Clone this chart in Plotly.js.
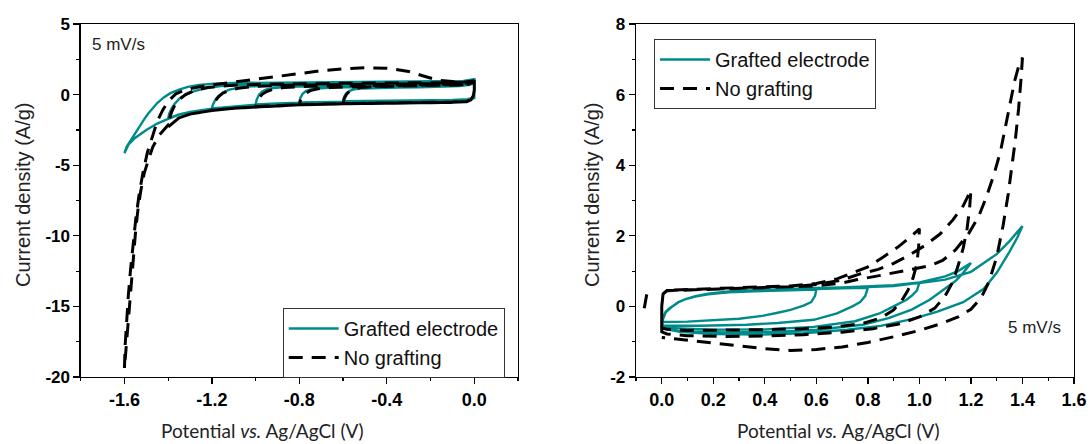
<!DOCTYPE html>
<html>
<head>
<meta charset="utf-8">
<script src="https://cdn.plot.ly/plotly-3.0.1.min.js"></script>
<style>html,body{margin:0;padding:0;background:#fff;}#chart{width:1091px;height:444px;}</style>
</head>
<body>
<div id="chart"></div>
<script>
// ---------- LEFT PANEL (negative window) ----------
// Grafted electrode: successive cycles 0 -> -0.6, -0.8, -1.0, -1.2, -1.4, -1.6 V
const leftGraftedV = [
  0, -0.03, -0.1, -0.2, -0.3, -0.4, -0.5, -0.6, -0.595, -0.585, -0.57, -0.55, -0.52, -0.45, -0.35, -0.25, -0.15, -0.07, -0.02, 0,
  0, -0.03, -0.1, -0.2, -0.4, -0.6, -0.7, -0.8, -0.795, -0.785, -0.77, -0.75, -0.72, -0.65, -0.5, -0.35, -0.2, -0.1, -0.03, 0,
  0, -0.03, -0.1, -0.2, -0.4, -0.6, -0.8, -0.9, -1.0, -0.995, -0.985, -0.97, -0.95, -0.92, -0.85, -0.7, -0.5, -0.3, -0.15, -0.05, 0,
  0, -0.03, -0.1, -0.2, -0.4, -0.6, -0.8, -1.0, -1.1, -1.2, -1.195, -1.185, -1.17, -1.15, -1.12, -1.08, -1.02, -0.9, -0.7, -0.5, -0.3, -0.15, -0.05, 0,
  0, -0.03, -0.1, -0.2, -0.4, -0.6, -0.8, -1.0, -1.1, -1.2, -1.3, -1.35, -1.4, -1.395, -1.385, -1.37, -1.35, -1.32, -1.28, -1.23, -1.16, -1.05, -0.9, -0.7, -0.5, -0.3, -0.15, -0.05, 0,
  0, -0.03, -0.1, -0.2, -0.4, -0.6, -0.8, -1.0, -1.1, -1.2, -1.3, -1.35, -1.4, -1.45, -1.5, -1.55, -1.58, -1.6, -1.59, -1.57, -1.55, -1.53, -1.51, -1.49, -1.47, -1.45, -1.42, -1.39, -1.35, -1.31, -1.26, -1.19, -1.1, -0.9, -0.7, -0.5, -0.3, -0.15, -0.05, 0
];
const leftGraftedI = [
  -0.2, -0.33, -0.38, -0.4, -0.41, -0.42, -0.44, -0.46, -0.15, 0.1, 0.27, 0.37, 0.43, 0.48, 0.5, 0.52, 0.55, 0.6, 0.7, 0.85,
  -0.22, -0.35, -0.4, -0.42, -0.44, -0.48, -0.51, -0.55, -0.22, 0.05, 0.25, 0.36, 0.43, 0.5, 0.55, 0.58, 0.6, 0.64, 0.72, 0.92,
  -0.22, -0.36, -0.41, -0.43, -0.45, -0.5, -0.57, -0.62, -0.7, -0.35, -0.02, 0.22, 0.36, 0.46, 0.55, 0.6, 0.63, 0.66, 0.69, 0.75, 0.98,
  -0.24, -0.38, -0.42, -0.44, -0.46, -0.51, -0.59, -0.72, -0.83, -0.98, -0.7, -0.4, -0.1, 0.15, 0.35, 0.48, 0.58, 0.66, 0.7, 0.73, 0.76, 0.8, 0.85, 1.05,
  -0.25, -0.38, -0.42, -0.44, -0.46, -0.52, -0.6, -0.73, -0.85, -1.0, -1.22, -1.4, -1.7, -1.35, -1.0, -0.65, -0.3, 0.0, 0.25, 0.45, 0.6, 0.7, 0.75, 0.78, 0.8, 0.82, 0.85, 0.9, 1.08,
  -0.25, -0.39, -0.43, -0.45, -0.47, -0.53, -0.62, -0.75, -0.87, -1.02, -1.24, -1.42, -1.72, -2.05, -2.5, -3.05, -3.5, -4.15, -3.7, -3.2, -2.7, -2.2, -1.75, -1.32, -0.95, -0.6, -0.2, 0.1, 0.35, 0.55, 0.68, 0.78, 0.82, 0.85, 0.87, 0.88, 0.9, 0.92, 0.97, 1.1
];
// No grafting
const leftBareV = [
  0, -0.005, -0.015, -0.035, -0.1, -0.2, -0.3, -0.4, -0.5, -0.6, -0.595, -0.585, -0.57, -0.55, -0.52, -0.45, -0.35, -0.25, -0.15, -0.07, -0.02, 0,
  0, -0.005, -0.015, -0.035, -0.1, -0.2, -0.4, -0.6, -0.7, -0.8, -0.795, -0.785, -0.77, -0.75, -0.72, -0.66, -0.55, -0.4, -0.25, -0.1, -0.03, 0,
  0, -0.005, -0.015, -0.035, -0.1, -0.2, -0.4, -0.6, -0.8, -0.9, -1.0, -0.995, -0.985, -0.97, -0.95, -0.92, -0.87, -0.75, -0.55, -0.35, -0.18, -0.06, 0,
  0, -0.005, -0.015, -0.035, -0.1, -0.2, -0.4, -0.6, -0.8, -1.0, -1.1, -1.2, -1.195, -1.185, -1.17, -1.15, -1.12, -1.08, -1.0, -0.85, -0.6, -0.4, -0.2, -0.08, 0,
  0, -0.005, -0.015, -0.035, -0.1, -0.2, -0.4, -0.6, -0.8, -1.0, -1.1, -1.2, -1.3, -1.35, -1.4, -1.395, -1.385, -1.37, -1.35, -1.32, -1.28, -1.22, -1.12, -1.0, -0.8, -0.6, -0.4, -0.2, -0.08, 0,
  0, -0.005, -0.015, -0.035, -0.1, -0.2, -0.4, -0.6, -0.8, -1.0, -1.1, -1.2, -1.3, -1.35, -1.4, -1.44, -1.47, -1.49, -1.51, -1.525, -1.537, -1.548, -1.556, -1.563, -1.57, -1.578, -1.587, -1.595, -1.6,
  -1.597, -1.59, -1.582, -1.572, -1.561, -1.548, -1.533, -1.515, -1.495, -1.472, -1.45, -1.425, -1.398, -1.365, -1.32, -1.25, -1.15, -1.05, -0.95, -0.85, -0.72, -0.6, -0.5, -0.4, -0.3, -0.24, -0.17, -0.1, -0.04, 0
];
const leftBareI = [
  0.3, -0.1, -0.35, -0.48, -0.53, -0.55, -0.57, -0.58, -0.6, -0.63, -0.3, 0.0, 0.25, 0.4, 0.5, 0.57, 0.6, 0.62, 0.65, 0.68, 0.75, 0.9,
  0.3, -0.1, -0.35, -0.48, -0.53, -0.55, -0.58, -0.63, -0.66, -0.7, -0.42, -0.15, 0.1, 0.28, 0.4, 0.5, 0.56, 0.6, 0.63, 0.67, 0.74, 0.88,
  0.3, -0.1, -0.36, -0.49, -0.54, -0.56, -0.59, -0.64, -0.71, -0.77, -0.85, -0.55, -0.25, 0.02, 0.22, 0.38, 0.5, 0.6, 0.65, 0.68, 0.7, 0.76, 0.9,
  0.3, -0.1, -0.37, -0.5, -0.55, -0.57, -0.6, -0.65, -0.72, -0.86, -0.97, -1.12, -0.8, -0.45, -0.15, 0.1, 0.3, 0.45, 0.58, 0.66, 0.7, 0.72, 0.75, 0.8, 0.92,
  0.3, -0.1, -0.37, -0.5, -0.55, -0.57, -0.6, -0.65, -0.72, -0.86, -0.97, -1.12, -1.38, -1.65, -2.3, -1.8, -1.25, -0.75, -0.35, 0.0, 0.3, 0.5, 0.65, 0.72, 0.78, 0.8, 0.82, 0.84, 0.86, 0.95,
  0.3, -0.1, -0.37, -0.5, -0.55, -0.57, -0.6, -0.65, -0.72, -0.86, -0.97, -1.12, -1.38, -1.65, -2.15, -2.85, -3.7, -4.6, -5.6, -6.8, -8.0, -9.5, -11.0, -12.4, -14.0, -15.6, -17.3, -18.6, -19.4,
  -17.8, -16.0, -14.2, -12.4, -10.6, -8.8, -7.1, -5.5, -4.1, -2.9, -1.9, -1.1, -0.45, 0.05, 0.35, 0.58, 0.78, 0.98, 1.18, 1.4, 1.65, 1.83, 1.9, 1.87, 1.64, 1.35, 1.03, 0.92, 0.9, 0.98
];

// ---------- RIGHT PANEL (positive window) ----------
// Grafted electrode: successive cycles 0 -> 0.6, 0.8, 1.0, 1.2, 1.4 V
const rightGraftedV = [
  0, 0.005, 0.015, 0.03, 0.045, 0.065, 0.09, 0.13, 0.18, 0.26, 0.36, 0.46, 0.6, 0.595, 0.58, 0.55, 0.5, 0.45, 0.39, 0.3, 0.2, 0.1, 0,
  0, 0.005, 0.015, 0.03, 0.045, 0.065, 0.09, 0.13, 0.18, 0.26, 0.36, 0.46, 0.6, 0.7, 0.8, 0.79, 0.77, 0.74, 0.68, 0.59, 0.45, 0.33, 0.15, 0,
  0, 0.005, 0.015, 0.03, 0.045, 0.065, 0.09, 0.13, 0.18, 0.26, 0.36, 0.46, 0.6, 0.7, 0.8, 0.9, 1.0, 0.99, 0.97, 0.95, 0.9, 0.845, 0.75, 0.59, 0.4, 0.2, 0,
  0, 0.005, 0.015, 0.03, 0.045, 0.065, 0.09, 0.13, 0.18, 0.26, 0.36, 0.46, 0.6, 0.7, 0.8, 0.9, 1.0, 1.1, 1.15, 1.2, 1.17, 1.14, 1.09, 1.04, 0.97, 0.88, 0.78, 0.6, 0.46, 0.25, 0.07, 0,
  0, 0.005, 0.015, 0.03, 0.045, 0.065, 0.09, 0.13, 0.18, 0.26, 0.36, 0.46, 0.6, 0.7, 0.8, 0.9, 1.0, 1.1, 1.2, 1.3, 1.35, 1.4, 1.38, 1.35, 1.3, 1.25, 1.17, 1.07, 0.97, 0.85, 0.72, 0.55, 0.39, 0.2, 0.07, 0
];
const rightGraftedI = [
  -0.42, -0.3, -0.15, -0.05, 0.02, 0.12, 0.2, 0.28, 0.34, 0.4, 0.43, 0.45, 0.48, 0.3, 0.12, 0.02, -0.1, -0.18, -0.27, -0.35, -0.4, -0.43, -0.44,
  -0.44, -0.3, -0.15, -0.05, 0.02, 0.12, 0.2, 0.28, 0.34, 0.4, 0.43, 0.46, 0.49, 0.51, 0.53, 0.3, 0.12, 0.0, -0.2, -0.38, -0.47, -0.52, -0.55, -0.55,
  -0.55, -0.35, -0.17, -0.06, 0.02, 0.12, 0.2, 0.28, 0.35, 0.41, 0.44, 0.47, 0.5, 0.52, 0.54, 0.58, 0.67, 0.45, 0.3, 0.19, 0.0, -0.2, -0.42, -0.58, -0.65, -0.66, -0.6,
  -0.6, -0.36, -0.18, -0.06, 0.02, 0.12, 0.2, 0.28, 0.35, 0.41, 0.45, 0.48, 0.51, 0.53, 0.55, 0.6, 0.68, 0.85, 1.0, 1.23, 0.95, 0.72, 0.45, 0.19, -0.09, -0.33, -0.52, -0.66, -0.72, -0.74, -0.71, -0.6,
  -0.6, -0.36, -0.18, -0.06, 0.02, 0.12, 0.2, 0.29, 0.36, 0.42, 0.46, 0.49, 0.52, 0.54, 0.56, 0.6, 0.66, 0.76, 0.98, 1.48, 1.85, 2.28, 1.95, 1.55, 0.95, 0.5, 0.12, -0.15, -0.36, -0.55, -0.66, -0.76, -0.8, -0.78, -0.72, -0.62
];
// No grafting (null breaks the first short sweep from the loops)
const rightBareV = [
  -0.068, -0.058, null,
  0, 0, 0.005, 0.02, 0.1, 0.2, 0.3, 0.4, 0.5, 0.6, 0.68, 0.74, 0.8, 0.86, 0.92, 0.97, 1.0, 0.997, 0.99, 0.975, 0.955, 0.93, 0.9, 0.85, 0.78, 0.68, 0.55, 0.4, 0.25, 0.1, 0.02, 0,
  0, 0.005, 0.02, 0.1, 0.2, 0.3, 0.4, 0.5, 0.6, 0.7, 0.77, 0.84, 0.9, 0.96, 1.02, 1.08, 1.13, 1.17, 1.2, 1.195, 1.185, 1.17, 1.15, 1.13, 1.1, 1.06, 1.0, 0.92, 0.82, 0.7, 0.55, 0.4, 0.25, 0.1, 0.02, 0,
  0, 0.005, 0.02, 0.1, 0.2, 0.3, 0.4, 0.5, 0.6, 0.7, 0.76, 0.85, 0.97, 1.04, 1.09, 1.14, 1.19, 1.23, 1.26, 1.29, 1.315, 1.335, 1.355, 1.37, 1.385, 1.4,
  1.395, 1.385, 1.372, 1.36, 1.345, 1.325, 1.3, 1.27, 1.24, 1.2, 1.15, 1.08, 1.0, 0.9, 0.8, 0.7, 0.6, 0.5, 0.4, 0.3, 0.2, 0.1, 0.03, 0
];
const rightBareI = [
  -0.05, 0.35, null,
  -0.6, 0.0, 0.35, 0.46, 0.48, 0.5, 0.52, 0.55, 0.58, 0.65, 0.78, 0.95, 1.12, 1.4, 1.7, 2.0, 2.2, 1.7, 1.2, 0.8, 0.45, 0.15, -0.1, -0.33, -0.48, -0.58, -0.63, -0.66, -0.68, -0.68, -0.65, -0.6,
  0.0, 0.35, 0.45, 0.47, 0.49, 0.51, 0.53, 0.56, 0.62, 0.75, 0.92, 1.05, 1.22, 1.45, 1.72, 2.05, 2.45, 2.85, 3.3, 2.8, 2.2, 1.65, 1.15, 0.7, 0.3, -0.05, -0.3, -0.5, -0.63, -0.73, -0.8, -0.84, -0.85, -0.83, -0.78, -0.72,
  0.0, 0.35, 0.44, 0.46, 0.48, 0.5, 0.52, 0.54, 0.58, 0.66, 0.76, 0.88, 1.04, 1.15, 1.3, 1.6, 2.05, 2.55, 3.1, 3.75, 4.4, 5.1, 5.8, 6.4, 6.8, 7.05,
  6.5, 5.6, 4.7, 4.0, 3.2, 2.3, 1.4, 0.7, 0.25, -0.08, -0.3, -0.5, -0.68, -0.86, -1.02, -1.15, -1.22, -1.25, -1.2, -1.12, -1.04, -0.95, -0.9, -0.88
];

// ---------- labels ----------
const seriesNames = ['Grafted electrode', 'No grafting'];
const leftXTickVals = [-1.6, -1.2, -0.8, -0.4, 0.0];
const leftXTickText = ['-1.6', '-1.2', '-0.8', '-0.4', '0.0'];
const leftYTickVals = [5, 0, -5, -10, -15, -20];
const leftYTickText = ['5', '0', '-5', '-10', '-15', '-20'];
const rightXTickVals = [0, 0.2, 0.4, 0.6, 0.8, 1.0, 1.2, 1.4, 1.6];
const rightXTickText = ['0.0', '0.2', '0.4', '0.6', '0.8', '1.0', '1.2', '1.4', '1.6'];
const rightYTickVals = [8, 6, 4, 2, 0, -2];
const rightYTickText = ['8', '6', '4', '2', '0', '-2'];
const rateLabel = '5 mV/s';
const xTitle = 'Potential <i>vs.</i> Ag/AgCl (V)';
const yTitle = 'Current density (A/g)';

// ---------- styling ----------
const W = 1091, H = 444;
const TEAL = '#008b8b';
const lineTeal = {color: TEAL, width: 2.4};
const lineBlack = {color: '#000', width: 3, dash: '14px,9px'};
const tickFontY = {family: 'Liberation Sans, Arial, sans-serif', size: 17, color: '#000', weight: 'bold'};
const tickFontX = {family: 'Liberation Sans Narrow, Arial Narrow, Liberation Sans, Arial, sans-serif', size: 18, color: '#000', weight: 'bold'};
const px = v => v / W, py = v => 1 - v / H;

const traces = [
  {x: leftGraftedV, y: leftGraftedI, xaxis: 'x', yaxis: 'y', mode: 'lines', name: seriesNames[0], line: lineTeal, legend: 'legend'},
  {x: leftBareV, y: leftBareI, xaxis: 'x', yaxis: 'y', mode: 'lines', name: seriesNames[1], line: lineBlack, legend: 'legend'},
  {x: rightGraftedV, y: rightGraftedI, xaxis: 'x2', yaxis: 'y2', mode: 'lines', name: seriesNames[0], line: lineTeal, legend: 'legend2', connectgaps: false},
  {x: rightBareV, y: rightBareI, xaxis: 'x2', yaxis: 'y2', mode: 'lines', name: seriesNames[1], line: lineBlack, legend: 'legend2', connectgaps: false}
];

function axisBase(extra) {
  return Object.assign({
    showline: true, linecolor: '#000', linewidth: 1.3, mirror: true,
    showgrid: false, zeroline: false,
    ticks: 'outside', ticklen: 6, tickwidth: 1.3, tickcolor: '#000',
    tickmode: 'array', fixedrange: true
  }, extra);
}

const legendBase = {
  xanchor: 'left', yanchor: 'top', bgcolor: '#fff', bordercolor: '#333', borderwidth: 1,
  font: {family: 'Liberation Sans, Arial, sans-serif', size: 20, color: '#111'},
  traceorder: 'normal', tracegroupgap: 0, itemwidth: 50, orientation: 'v'
};

const layout = {
  width: W, height: H,
  margin: {l: 0, r: 0, t: 0, b: 0},
  paper_bgcolor: '#fff', plot_bgcolor: '#fff',
  showlegend: true,
  xaxis: axisBase({domain: [px(80.7), px(518)], range: [-1.8, 0.2], anchor: 'y',
    tickvals: leftXTickVals, ticktext: leftXTickText, tickfont: tickFontX,
    minor: {tickmode: 'linear', tick0: 0, dtick: 0.2, ticks: 'outside', ticklen: 3, tickwidth: 1.2, tickcolor: '#000'}}),
  yaxis: axisBase({domain: [py(377), py(24)], range: [-20, 5], anchor: 'x',
    tickvals: leftYTickVals, ticktext: leftYTickText, tickfont: tickFontY,
    minor: {tickmode: 'linear', tick0: 0, dtick: 2.5, ticks: 'outside', ticklen: 3, tickwidth: 1.2, tickcolor: '#000'}}),
  xaxis2: axisBase({domain: [px(636), px(1074)], range: [-0.1, 1.6], anchor: 'y2',
    tickvals: rightXTickVals, ticktext: rightXTickText, tickfont: tickFontX,
    minor: {tickmode: 'linear', tick0: 0, dtick: 0.1, ticks: 'outside', ticklen: 3, tickwidth: 1.2, tickcolor: '#000'}}),
  yaxis2: axisBase({domain: [py(377), py(24)], range: [-2, 8], anchor: 'x2',
    tickvals: rightYTickVals, ticktext: rightYTickText, tickfont: tickFontY,
    minor: {tickmode: 'linear', tick0: 0, dtick: 1, ticks: 'outside', ticklen: 3, tickwidth: 1.2, tickcolor: '#000'}}),
  legend: Object.assign({}, legendBase, {x: px(282.7), y: py(308)}),
  legend2: Object.assign({}, legendBase, {x: px(654), y: py(39)}),
  annotations: [
    {text: rateLabel, xref: 'paper', yref: 'paper', x: px(90), y: py(45), xanchor: 'left', yanchor: 'middle', showarrow: false,
     font: {family: 'Liberation Sans, Arial, sans-serif', size: 17, color: '#222'}},
    {text: rateLabel, xref: 'paper', yref: 'paper', x: px(1006), y: py(327), xanchor: 'left', yanchor: 'middle', showarrow: false,
     font: {family: 'Liberation Sans, Arial, sans-serif', size: 17, color: '#222'}},
    {text: yTitle, xref: 'paper', yref: 'paper', x: px(23), y: py(195), xanchor: 'center', yanchor: 'middle', textangle: -90, showarrow: false,
     font: {family: 'Liberation Sans, Arial, sans-serif', size: 20, color: '#222'}},
    {text: yTitle, xref: 'paper', yref: 'paper', x: px(592), y: py(195), xanchor: 'center', yanchor: 'middle', textangle: -90, showarrow: false,
     font: {family: 'Liberation Sans, Arial, sans-serif', size: 20, color: '#222'}},
    {text: xTitle, xref: 'paper', yref: 'paper', x: px(262), y: py(430), xanchor: 'center', yanchor: 'middle', showarrow: false,
     font: {family: 'Lato, Liberation Sans, Arial, sans-serif', size: 19, color: '#222'}},
    {text: xTitle, xref: 'paper', yref: 'paper', x: px(838), y: py(430), xanchor: 'center', yanchor: 'middle', showarrow: false,
     font: {family: 'Lato, Liberation Sans, Arial, sans-serif', size: 19, color: '#222'}}
  ]
};

Plotly.newPlot('chart', traces, layout, {staticPlot: true, displayModeBar: false});
</script>
</body>
</html>
